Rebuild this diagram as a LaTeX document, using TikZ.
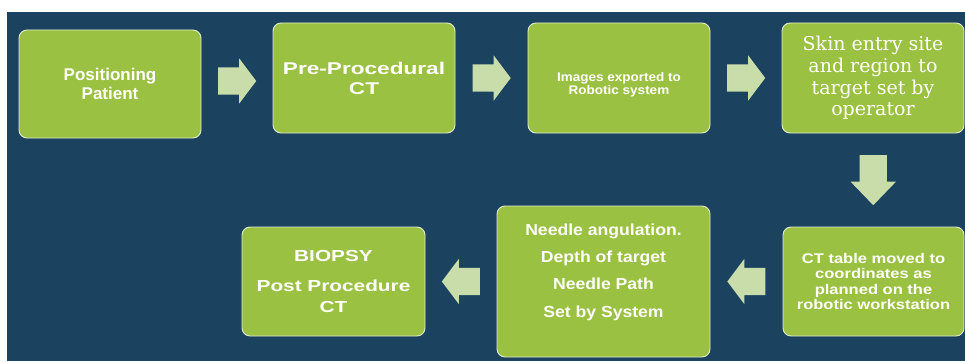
\documentclass[tikz,border=0pt]{standalone}
\usepackage{fontspec}
\setmainfont{Liberation Sans}
\newfontfamily\skinfont{DejaVu Serif}
\usepackage{tikz}
\usetikzlibrary{calc,positioning,shapes.arrows}
\definecolor{slate}{HTML}{1B4360}
\definecolor{leaf}{HTML}{9BC142}
\definecolor{pale}{HTML}{C9DDAB}
\definecolor{rim}{HTML}{E2ECCF}
\newcommand\stagefont[3]{\bfseries\fontsize{#1}{#2}\selectfont\addfontfeatures{FakeStretch=#3}}
\tikzset{
  stage/.style={draw=rim,line width=0.9pt,fill=leaf,rounded corners=8pt,
    text=white,align=center,inner sep=2pt},
  fatarr/.style={single arrow,fill=pale,draw=none,inner sep=0pt,inner ysep=13.5pt,
    minimum height=38pt,single arrow head extend=9pt,single arrow tip angle=106,
    anchor=tail},
}

\begin{document}
\begin{tikzpicture}[x=1pt,y=-1pt]
\fill[white] (0,0) rectangle (965,361);
\useasboundingbox (0,0) rectangle (965,361);
\fill[slate] (7,12) rectangle (965,361);

% top row
\node[stage,minimum width=182pt,minimum height=108pt,font=\stagefont{17}{19}{1}]
  (pos) at (110,84) {Positioning\\Patient};
\node[stage,minimum width=182pt,minimum height=110pt,font=\stagefont{17}{20}{1.33}]
  (prect) at (364,78) {Pre-Procedural\\CT};
\node[stage,minimum width=182pt,minimum height=110pt,font=\stagefont{12.5}{11.5}{1.08},text height=36pt]
  (export) at (619,78) {Images exported to\\Robotic system};
\node[stage,minimum width=182pt,minimum height=110pt,font=\skinfont\fontsize{19}{21.7}\selectfont]
  (skin) at (873,78) {Skin entry site\\and region to\\target set by\\operator};

% bottom row
\node[stage,minimum width=181pt,minimum height=109pt,font=\stagefont{14}{15.3}{1.18}]
  (table) at (873.5,281.5) {CT table moved to\\coordinates as\\planned on the\\robotic workstation};
\node[stage,minimum width=213pt,minimum height=151pt,font=\stagefont{16}{27.3}{1.1},text depth=22pt]
  (needle) at (603.5,281.5) {Needle angulation.\\Depth of target\\Needle Path\\Set by System};
\node[stage,minimum width=183pt,minimum height=109pt,font=\stagefont{16}{21}{1.3}]
  (biopsy) at (333.5,281.5) {BIOPSY\\[9pt]Post Procedure\\CT};

% block arrows
\node[fatarr,xshift=-19pt] (a1) at ($(pos.east)!0.5!(prect.west)$) {};
\node[fatarr,xshift=-19pt] (a2) at ($(prect.east)!0.5!(export.west)$) {};
\node[fatarr,xshift=-19pt] (a3) at ($(export.east)!0.5!(skin.west)$) {};
\node[fatarr,yshift=25pt,rotate=-90,minimum height=50pt,single arrow tip angle=88]
  (a4) at ($(skin.south)!0.5!(table.north)$) {};
\node[fatarr,shape border rotate=180,xshift=19pt] (a5) at ($(table.west)!0.5!(needle.east)$) {};
\node[fatarr,shape border rotate=180,xshift=19pt] (a6) at ($(needle.west)!0.5!(biopsy.east)$) {};
\end{tikzpicture}
\end{document}
